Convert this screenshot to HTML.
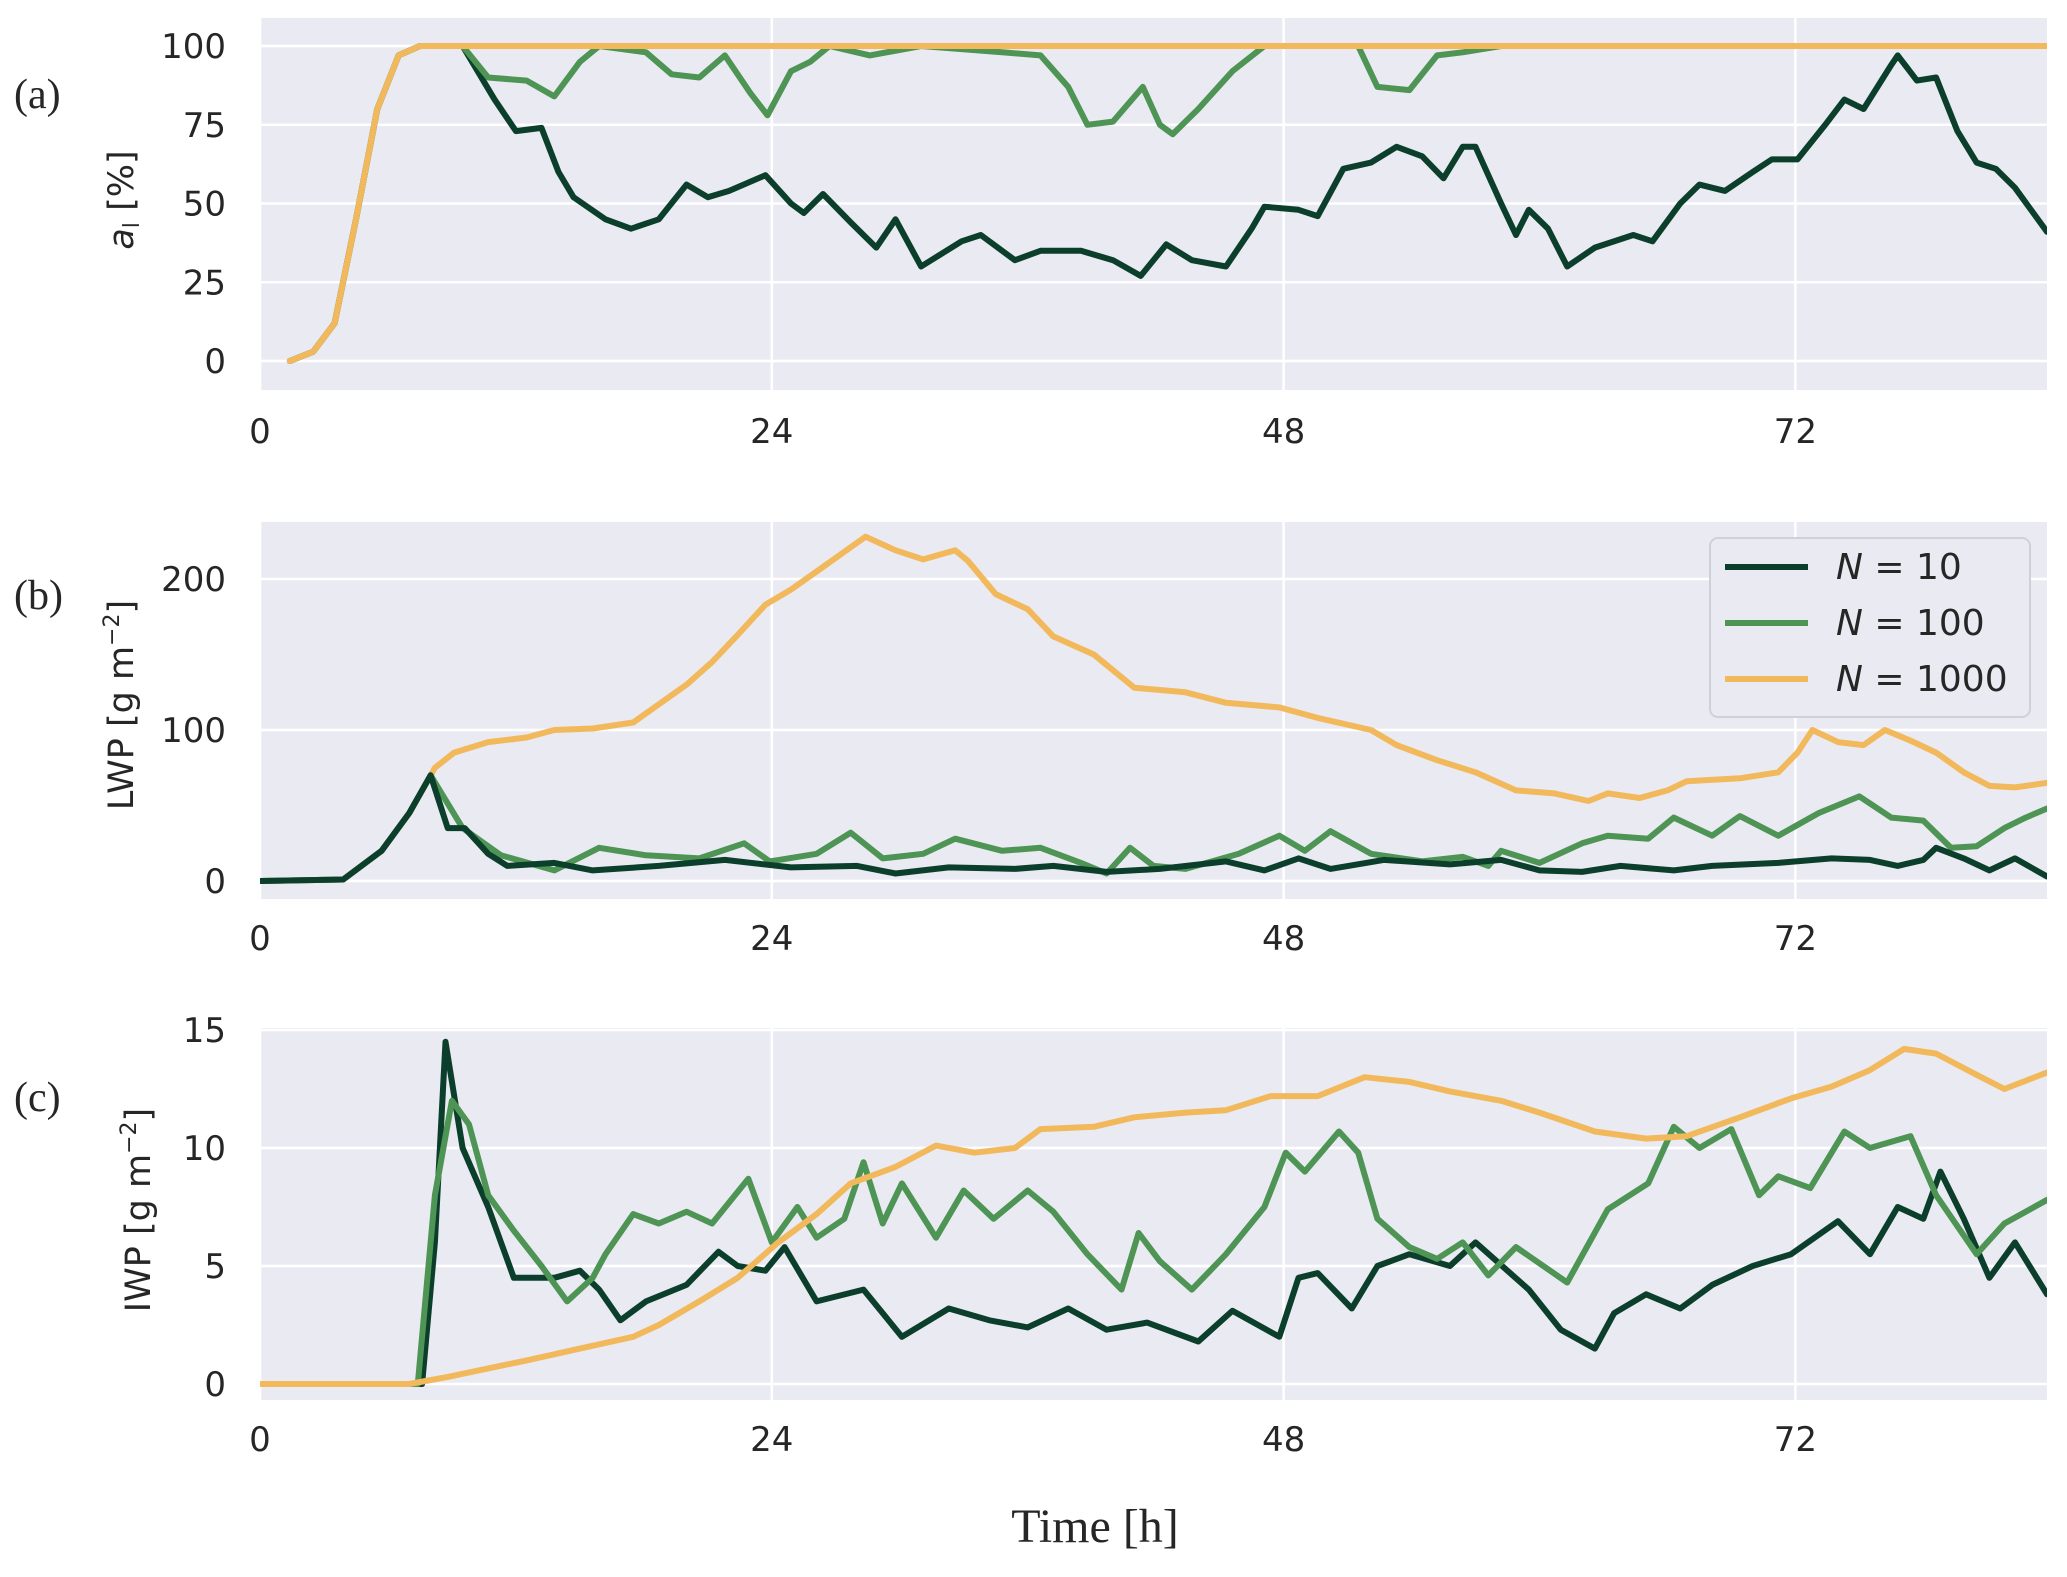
<!DOCTYPE html>
<html><head><meta charset="utf-8"><style>
body{margin:0;background:#fff}
svg text{font-family:"DejaVu Sans","Liberation Sans",sans-serif;fill:#262626}
</style></head><body>
<svg id="chart" width="2067" height="1572" viewBox="0 0 2067 1572" xmlns="http://www.w3.org/2000/svg"></svg>
<script>
const xTicks=[0,24,48,72];
const aTicks=[0,25,50,75,100];
const bTicks=[0,100,200];
const cTicks=[0,5,10,15];
const legendLabels=["10","100","1000"];
// panel a
const a10T=[0,1.4,2.5,3.5,4.5,5.5,6.5,7.5,9.5,11,12,13.2,14,14.7,16.2,17.4,18.7,20,21,22,23.7,24.9,25.5,26.4,27.7,28.9,29.8,31,32.9,33.8,35.4,36.6,38.5,40,41.3,42.5,43.7,45.3,46.5,47.1,48.7,49.6,50.8,52.1,53.3,54.5,55.5,56.4,57,58.2,58.9,59.5,60.4,61.3,62.6,64.4,65.3,66.6,67.5,68.7,70,70.9,72.1,73.4,74.3,75.2,76.5,76.8,77.7,78.6,79.6,80.5,81.4,82.3,83.8];
const a10V=[null,0,3,12,45,80,97,100,100,83,73,74,60,52,45,42,45,56,52,54,59,50,47,53,44,36,45,30,38,40,32,35,35,32,27,37,32,30,42,49,48,46,61,63,68,65,58,68,68,50,40,48,42,30,36,40,38,50,56,54,60,64,64,75,83,80,94,97,89,90,73,63,61,55,41];
const a100T=[1.4,2.5,3.5,4.5,5.5,6.5,7.5,9.5,10.7,12.5,13.8,15,15.9,18.1,19.3,20.6,21.8,23,23.8,24.9,25.8,26.7,28.6,31,34.8,36.6,37.9,38.8,40,41.4,42.2,42.8,44,45.6,47.1,51.5,52.4,53.9,55.2,56.4,58.2,83.8];
const a100V=[0,3,12,45,80,97,100,100,90,89,84,95,100,98,91,90,97,85,78,92,95,100,97,100,98,97,87,75,76,87,75,72,80,92,100,100,87,86,97,98,100,100];
const a1000T=[1.4,2.5,3.5,4.5,5.5,6.5,7.5,83.8];
const a1000V=[0,3,12,45,80,97,100,100];
// panel b
const b1000T=[0,3.9,5.7,7,8.2,9.1,10.7,12.5,13.8,15.6,17.5,18.7,20,21.2,22.4,23.7,24.9,26.1,27.4,28.4,29.8,31.1,32.6,33.2,34.5,36,37.2,39.1,41,43.4,45.3,47.8,49.6,52.1,53.3,55.2,57,58.9,60.7,62.3,63.2,64.7,66,66.9,69.4,71.2,72.1,72.8,74,75.2,76.2,77.4,78.6,79.9,81.1,82.3,83.8];
const b1000V=[0,1,20,45,75,85,92,95,100,101,105,117,130,145,163,183,193,205,218,228,219,213,219,212,190,180,162,150,128,125,118,115,108,100,90,80,72,60,58,53,58,55,60,66,68,72,85,100,92,90,100,93,85,72,63,62,65];
const b10T=[0,3.9,5.7,7,8,8.8,9.6,10.7,11.6,13.8,15.6,18.7,21.8,24.9,28,29.8,32.3,35.4,37.2,39.7,42.2,45.3,47.1,48.7,50.2,52.7,55.8,58.2,60,62,63.8,66.3,68.1,71.2,73.7,75.5,76.8,78,78.6,79.9,81.1,82.3,83.8];
const b10V=[0,1,20,45,70,35,35,18,10,12,7,10,14,9,10,5,9,8,10,6,8,13,7,15,8,14,11,14,7,6,10,7,10,12,15,14,10,14,22,15,7,15,3];
const b100T=[0,3.9,5.7,7,8,9.5,11.3,13.8,15.9,18.1,20.6,22.7,23.9,26.1,27.7,29.2,31.1,32.6,34.8,36.6,38.5,39.7,40.8,41.9,43.4,45.9,47.8,49,50.2,52.1,54.5,56.4,57.6,58.2,60,62,63.2,65.1,66.3,68.1,69.4,71.2,73.1,75,76.5,78,79.3,80.5,81.8,82.8,83.8];
const b100V=[0,1,20,45,70,35,17,7,22,17,15,25,13,18,32,15,18,28,20,22,12,5,22,10,8,18,30,20,33,18,13,16,10,20,12,25,30,28,42,30,43,30,45,56,42,40,22,23,35,42,48];
// panel c
const c1000T=[0,7,8.8,12.5,15,17.5,18.7,20.6,22.4,24.3,26.1,27.7,29.8,31.7,33.5,35.4,36.6,39.1,41,43.4,45.3,47.4,49.6,51.8,53.9,55.8,58.2,60,62.6,65,66.9,69.4,71.8,73.7,75.5,77.1,78.6,80.5,81.8,83.8];
const c1000V=[0,0,0.3,1,1.5,2,2.5,3.5,4.5,6,7.2,8.5,9.2,10.1,9.8,10,10.8,10.9,11.3,11.5,11.6,12.2,12.2,13,12.8,12.4,12,11.5,10.7,10.4,10.5,11.3,12.1,12.6,13.3,14.2,14,13.1,12.5,13.2];
const c10T=[0,7.6,8.2,8.7,9.5,10.7,11.9,13.8,15,15.9,16.9,18.1,20,21.5,22.4,23.7,24.6,26.1,28.3,30.1,32.3,34.2,36,37.9,39.7,41.6,44,45.6,47.8,48.7,49.6,51.2,52.4,53.9,55.8,57,59.5,61,62.6,63.5,65,66.6,68.1,70,71.8,74,75.5,76.8,78,78.8,79.9,81.1,82.3,83.8];
const c10V=[0,0,6,14.5,10,7.5,4.5,4.5,4.8,4,2.7,3.5,4.2,5.6,5,4.8,5.8,3.5,4,2,3.2,2.7,2.4,3.2,2.3,2.6,1.8,3.1,2,4.5,4.7,3.2,5,5.5,5,6,4,2.3,1.5,3,3.8,3.2,4.2,5,5.5,6.9,5.5,7.5,7,9,7,4.5,6,3.8];
const c100T=[0,7.4,8.2,9,9.8,10.7,11.9,13.2,14.4,15.6,16.2,17.5,18.7,20,21.2,22.9,24,25.2,26.1,27.4,28.3,29.2,30.1,31.7,33,34.4,36,37.2,38.8,40.4,41.2,42.2,43.7,45.3,47.1,48.1,49,50.6,51.5,52.4,53.9,55.2,56.4,57.6,58.9,61.3,63.2,65.1,66.3,67.5,69,70.3,71.2,72.7,74.3,75.5,77.4,78.6,80.5,81.8,83.8];
const c100V=[0,0,8,12,11,8,6.5,5,3.5,4.5,5.5,7.2,6.8,7.3,6.8,8.7,6,7.5,6.2,7,9.4,6.8,8.5,6.2,8.2,7,8.2,7.3,5.5,4,6.4,5.2,4,5.5,7.5,9.8,9,10.7,9.8,7,5.8,5.3,6,4.6,5.8,4.3,7.4,8.5,10.9,10,10.8,8,8.8,8.3,10.7,10,10.5,8,5.5,6.8,7.8];

const NS="http://www.w3.org/2000/svg";
const svg=document.getElementById('chart');
function mk(tag,attrs,parent){const e=document.createElementNS(NS,tag);for(const k in attrs)e.setAttribute(k,attrs[k]);(parent||svg).appendChild(e);return e;}
const L=260,R=2047,XMAX=83.8;
function xs(t){return L+(t/XMAX)*(R-L);}
const colors=["#0b3f2b","#4e9455","#f2b95c"];
const panels=[
 {name:'a',top:18,bot:390,y0:361,v1:100,y1:46,ticks:aTicks,tickY:443,pl:95,
  series:[[a10T,a10V],[a100T,a100V],[a1000T,a1000V]],order:[0,1,2]},
 {name:'b',top:522,bot:899,y0:881,v1:200,y1:579,ticks:bTicks,tickY:950,pl:596,
  series:[[b10T,b10V],[b100T,b100V],[b1000T,b1000V]],order:[2,1,0]},
 {name:'c',top:1028,bot:1400,y0:1384,v1:15,y1:1030,ticks:cTicks,tickY:1451,pl:1098,
  series:[[c10T,c10V],[c100T,c100V],[c1000T,c1000V]],order:[0,1,2]}
];
panels.forEach(p=>{
 const ys=v=>p.y0+(v/p.v1)*(p.y1-p.y0);
 const g=mk('g',{});
 
 
 const bg=mk('rect',{x:L,y:p.top,width:R-L,height:p.bot-p.top,fill:'#eaeaf2'},g);
 
 
 xTicks.forEach(t=>{
  const gl=mk('line',{x1:xs(t),x2:xs(t),y1:p.top,y2:p.bot,stroke:'#fff','stroke-width':2.5},g);
  
  
  const tx=mk('text',{x:xs(t),y:p.tickY,'text-anchor':'middle','font-size':34},g);
  
  
  tx.textContent=t;
 });
 p.ticks.forEach(v=>{
  const gl=mk('line',{x1:L,x2:R,y1:ys(v),y2:ys(v),stroke:'#fff','stroke-width':2.5},g);
  
  
  const tx=mk('text',{x:L-34,y:ys(v)+12,'text-anchor':'end','font-size':34},g);
  
  
  tx.textContent=v;
 });
 const lab=mk('text',{x:14,y:p.pl+13,'font-size':42,style:'font-family:"Liberation Serif",serif'},g);
 
 
 lab.textContent='('+p.name+')';
 const cp=mk('clipPath',{id:'clip'+p.name},g);
 mk('rect',{x:L,y:p.top,width:R-L,height:p.bot-p.top},cp);
 p.order.forEach(i=>{
  const [T,V]=p.series[i];
  const pts=[];T.forEach((t,j)=>{if(V[j]!==null)pts.push(xs(t).toFixed(1)+','+ys(V[j]).toFixed(1));});
  const pl=mk('polyline',{points:pts.join(' '),fill:'none',stroke:colors[i],'stroke-width':6,'stroke-linejoin':'round','stroke-linecap':'round','clip-path':'url(#clip'+p.name+')'},g);
  
  
 });
});
function ytitle(x,y,html,name){const t=mk('text',{x:x,y:y,'font-size':35,'text-anchor':'middle',transform:'rotate(-90 '+x+' '+y+')'});t.innerHTML=html;}
ytitle(133,200,'<tspan font-style="italic">a</tspan><tspan font-size="22" dy="6">l</tspan><tspan dy="-6">  [%]</tspan>','y-axis-title-a');
ytitle(133,705,'LWP  [g m<tspan font-size="22" dy="-14">−2</tspan><tspan dy="14">]</tspan>','y-axis-title-b');
ytitle(150,1210,'IWP  [g m<tspan font-size="22" dy="-14">−2</tspan><tspan dy="14">]</tspan>','y-axis-title-c');
const xt=mk('text',{x:1095,y:1542,'font-size':48,'text-anchor':'middle',style:'font-family:"Liberation Serif",serif'});


xt.textContent='Time [h]';
const lg=mk('g',{});


mk('rect',{x:1710,y:538,width:320,height:179,rx:8,fill:'#eaeaf2',stroke:'#d0d0d8','stroke-width':2},lg);
legendLabels.forEach((l,i)=>{
 const yy=567+i*56;
 const ln=mk('line',{x1:1725,x2:1808,y1:yy,y2:yy,stroke:colors[i],'stroke-width':6},lg);
 
 
 const t=mk('text',{x:1836,y:yy+12,'font-size':36},lg);
 
 
 t.innerHTML='<tspan font-style="italic">N</tspan> = '+l;
});
</script>
</body></html>
